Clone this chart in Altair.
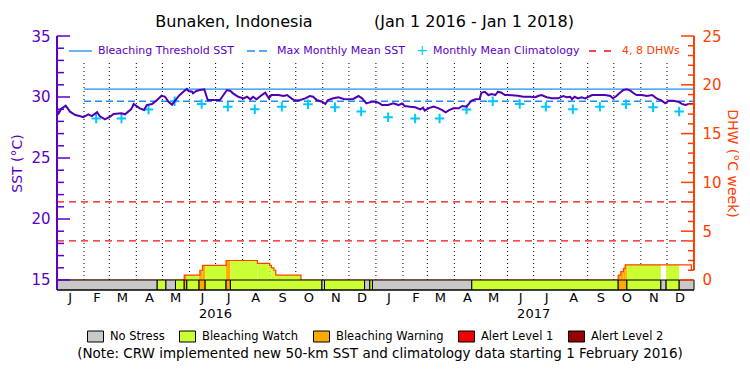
import datetime as dt
import altair as alt
import pandas as pd

START = dt.date(2016, 1, 1)
TOTAL_DAYS = 731

# ---------------- data ----------------
# daily SST (days since 1 Jan 2016, deg C)
sst_day = [0, 2, 5, 10, 15, 21, 26, 30, 36, 40,
           46, 49, 55, 61, 65, 74, 78, 85, 88, 95,
           100, 103, 109, 114, 120, 124, 128, 132, 136, 140,
           145, 149, 151, 155, 156, 160, 164, 169, 173, 187,
           191, 195, 199, 202, 208, 214, 218, 222, 225, 229,
           235, 239, 243, 246, 254, 260, 264, 269, 273, 279,
           285, 290, 294, 298, 304, 308, 311, 317, 323, 329,
           334, 340, 346, 350, 355, 361, 365, 369, 373, 380,
           386, 392, 396, 399, 405, 411, 417, 420, 422, 426,
           432, 438, 442, 446, 450, 455, 461, 465, 470, 473,
           476, 480, 485, 487, 491, 495, 499, 503, 506, 510,
           514, 518, 529, 535, 543, 549, 552, 556, 562, 568,
           575, 581, 585, 589, 591, 594, 598, 602, 606, 610,
           614, 623, 629, 635, 638, 642, 646, 650, 654, 658,
           661, 665, 671, 677, 683, 688, 694, 698, 702, 707,
           713, 717, 721, 725, 730]
sst_val = [28.99, 28.66, 29.04, 29.29, 28.80, 28.52, 28.44, 28.34, 28.58, 28.44,
           28.75, 28.44, 28.17, 28.39, 28.61, 28.66, 28.58, 28.99, 29.43, 29.07,
           28.93, 29.34, 29.43, 29.70, 30.11, 30.02, 29.61, 29.37, 29.75, 30.11,
           30.43, 30.66, 30.49, 30.43, 30.30, 30.49, 30.57, 30.63, 29.75, 29.75,
           30.16, 30.57, 30.49, 30.30, 30.02, 29.89, 30.02, 29.81, 30.02, 29.81,
           30.16, 30.35, 29.89, 30.16, 30.16, 30.08, 30.16, 29.89, 29.70, 29.75,
           29.89, 30.08, 30.02, 29.75, 29.61, 29.43, 29.75, 29.89, 29.98, 29.84,
           29.81, 29.84, 30.08, 29.89, 29.48, 29.61, 29.61, 29.53, 29.34, 29.34,
           29.48, 29.34, 29.48, 29.26, 29.21, 29.16, 28.99, 29.12, 28.88, 29.07,
           29.21, 29.07, 28.93, 28.75, 28.93, 29.07, 29.07, 29.26, 29.21, 29.48,
           29.70, 29.81, 29.84, 30.35, 30.43, 30.16, 30.25, 30.16, 30.43, 30.35,
           30.16, 30.16, 30.11, 30.02, 30.02, 29.98, 30.08, 30.16, 29.98, 29.89,
           29.89, 30.08, 29.98, 30.02, 29.81, 30.02, 29.89, 29.98, 29.89, 30.02,
           30.16, 30.16, 30.16, 30.08, 29.89, 30.08, 30.35, 30.57, 30.63, 30.52,
           30.35, 30.16, 30.16, 30.08, 30.16, 29.89, 29.70, 29.48, 29.70, 29.70,
           29.61, 29.43, 29.34, 29.43, 29.43]

# monthly mean climatology, Feb 2016 .. Dec 2017
clim_val = [28.24, 28.24, 28.98, 29.65, 29.43, 29.20, 28.99, 29.20, 29.40, 29.16, 28.82,
            28.34, 28.24, 28.24, 28.98, 29.65, 29.43, 29.20, 28.99, 29.20, 29.40, 29.16, 28.82]
MMM = 29.65
BT = 30.65
THRESH_FROM_DAY = 31          # thresholds drawn from 1 Feb 2016
DHW_LEVELS = [4, 8]

# Degree Heating Weeks (step values, day since 1 Jan 2016)
dhw_day = [0, 146, 164, 167, 194, 230, 244, 246, 249, 251, 280, 644, 647, 650, 652, 728]
dhw_val = [0, 0.5, 1.0, 1.5, 2.0, 1.7, 1.5, 1.25, 1.0, 0.5, 0, 0.5, 0.85, 1.2, 1.55, 1.0]

# bleaching alert status periods
status_start = [0, 115, 125, 136, 146, 149, 163, 170, 194, 199, 304,
                307, 353, 359, 362, 476, 644, 654, 693, 699, 714]
status_end = [115, 125, 136, 146, 149, 163, 170, 194, 199, 304, 307,
              353, 359, 362, 476, 644, 654, 693, 699, 714, 731]
status_level = ["No Stress", "Bleaching Watch", "No Stress", "Bleaching Watch",
                "Bleaching Warning", "Bleaching Watch", "Bleaching Warning",
                "Bleaching Watch", "Bleaching Warning", "Bleaching Watch", "No Stress",
                "Bleaching Watch", "No Stress", "Bleaching Watch", "No Stress",
                "Bleaching Watch", "Bleaching Warning", "Bleaching Watch", "No Stress",
                "Bleaching Watch", "No Stress"]
status_names = ["No Stress", "Bleaching Watch", "Bleaching Warning", "Alert Level 1", "Alert Level 2"]
status_colors = ["#c8c8c8", "#ccff33", "#ffaa00", "#f00000", "#960000"]

month_letters = list("JFMAMJJASOND")
years = [2016, 2017]

# ---------------- styling ----------------
FONT = "DejaVu Sans"
PURPLE = "#5a00c8"
LINE_PURPLE = "#5000b4"
ORANGE = "#ff4000"
BLUE = "#1e8cf0"
CYAN = "#00c8ff"
RED = "#f01010"
W, H = 637, 254

xs = alt.Scale(domain=[0, TOTAL_DAYS], nice=False, zero=False)
sst_scale = alt.Scale(domain=[14.18, 35], nice=False, zero=False)
dhw_scale = alt.Scale(domain=[-1.025, 25], nice=False, zero=False)

# ---------------- tables ----------------
month_start = [(dt.date(y, m, 1) - START).days for y in years for m in range(1, 13)]
sst_df = pd.DataFrame({"day": sst_day, "sst": sst_val})
clim_df = pd.DataFrame({"day": [d + 14 for d in month_start[1:]], "sst": clim_val})
grid_df = pd.DataFrame({"day": month_start[1:]})
mlab_df = pd.DataFrame({"day": [d + 15 for d in month_start],
                        "lab": month_letters * len(years)})
year_df = pd.DataFrame({"day": [(dt.date(y, 7, 1) - START).days for y in years],
                        "lab": [str(y) for y in years]})
thr_df = pd.DataFrame({"x": [THRESH_FROM_DAY], "x2": [TOTAL_DAYS], "bt": [BT], "mmm": [MMM]})
dhwl_df = pd.DataFrame({"x": [0] * len(DHW_LEVELS), "x2": [TOTAL_DAYS] * len(DHW_LEVELS),
                        "v": DHW_LEVELS})
status_df = pd.DataFrame({"start": status_start, "end": status_end, "status": status_level})
dhw_line_df = pd.DataFrame({"day": dhw_day + [TOTAL_DAYS], "dhw": dhw_val + [dhw_val[-1]]})


def status_at(d):
    for s, e, lv in zip(status_start, status_end, status_level):
        if s <= d < e:
            return lv
    return "No Stress"


def dhw_at(d):
    v = 0
    for dd, vv in zip(dhw_day, dhw_val):
        if dd <= d:
            v = vv
    return v


rows = []
for d in range(TOTAL_DAYS):
    lv, v = status_at(d), dhw_at(d)
    if lv != "No Stress" and v > 0:
        if rows and rows[-1]["end"] == d and rows[-1]["status"] == lv and rows[-1]["dhw"] == v:
            rows[-1]["end"] = d + 1
        else:
            rows.append({"start": d, "end": d + 1, "dhw": v, "status": lv, "base": 0})
fill_df = pd.DataFrame(rows)

color_enc = alt.Color(
    "status:N",
    scale=alt.Scale(domain=status_names, range=status_colors),
    legend=alt.Legend(
        orient="none", legendX=30, legendY=292, direction="horizontal", columns=5,
        title=None, symbolType="M-1,-0.6875H1V0.6875H-1Z", symbolSize=256,
        symbolStrokeColor="black", symbolStrokeWidth=1, symbolOpacity=1,
        labelFontSize=11.5, labelFont=FONT, labelColor="black", labelOffset=6,
        columnPadding=12, padding=0,
    ),
)

X = lambda f: alt.X(f, scale=xs, axis=None)


def txt(t, x, y, color="black", size=12, align="left", angle=0):
    return alt.Chart(pd.DataFrame({"t": [t]})).mark_text(
        align=align, baseline="middle", font=FONT, fontSize=size, color=color, angle=angle
    ).encode(text="t:N", x=alt.value(x), y=alt.value(y))


layers = []

# dotted month grid
layers.append(alt.Chart(grid_df).mark_rule(color="black", strokeWidth=1, strokeDash=[1, 3]).encode(
    x=X("day:Q"), y=alt.value(27), y2=alt.value(244)))

# 4, 8 DHW dashed lines
layers.append(alt.Chart(dhwl_df).mark_rule(color=RED, strokeWidth=1.2, strokeDash=[7, 5]).encode(
    x=X("x:Q"), x2="x2:Q", y=alt.Y("v:Q", scale=dhw_scale, axis=None)))

# thresholds
layers.append(alt.Chart(thr_df).mark_rule(color=BLUE, strokeWidth=1.3).encode(
    x=X("x:Q"), x2="x2:Q", y=alt.Y("bt:Q", scale=sst_scale, axis=None)))
layers.append(alt.Chart(thr_df).mark_rule(color=BLUE, strokeWidth=1.3, strokeDash=[7, 4]).encode(
    x=X("x:Q"), x2="x2:Q", y=alt.Y("mmm:Q", scale=sst_scale, axis=None)))

# climatology crosses
layers.append(alt.Chart(clim_df).mark_point(
    shape="M-1,0L1,0M0,-1L0,1", size=90, filled=False, color=CYAN, strokeWidth=2, opacity=1
).encode(x=X("day:Q"), y=alt.Y("sst:Q", scale=sst_scale, axis=None)))

# SST line (left axis)
layers.append(alt.Chart(sst_df).mark_line(color=LINE_PURPLE, strokeWidth=2).encode(
    x=X("day:Q"),
    y=alt.Y("sst:Q", scale=sst_scale, axis=alt.Axis(
        orient="left", values=[15, 20, 25, 30, 35], domain=False, ticks=False, grid=False,
        labelColor=PURPLE, labelFont=FONT, labelFontSize=15, labelPadding=7,
        title="SST (°C)", titleColor=PURPLE, titleFont=FONT, titleFontSize=14,
        titleFontWeight="normal", titlePadding=6))))

# DHW fill coloured by status
layers.append(alt.Chart(fill_df).mark_rect().encode(
    x=X("start:Q"), x2="end:Q",
    y=alt.Y("dhw:Q", scale=dhw_scale, axis=None), y2="base:Q", color=color_enc))

# DHW step line (right axis)
layers.append(alt.Chart(dhw_line_df).mark_line(color=ORANGE, strokeWidth=1.2, interpolate="step-after").encode(
    x=X("day:Q"),
    y=alt.Y("dhw:Q", scale=dhw_scale, axis=alt.Axis(
        orient="right", values=[0, 5, 10, 15, 20, 25], domain=False, ticks=False, grid=False,
        labelColor=ORANGE, labelFont=FONT, labelFontSize=15, labelPadding=8,
        title="DHW (°C week)", titleColor=ORANGE, titleFont=FONT, titleFontSize=14,
        titleFontWeight="normal", titlePadding=3))))

# status bar
layers.append(alt.Chart(status_df).mark_rect(stroke="black", strokeWidth=1).encode(
    x=X("start:Q"), x2="end:Q", y=alt.value(244), y2=alt.value(254), color=color_enc))

# axis ticks
sst_major = [15, 20, 25, 30, 35]
sst_minor = [v for v in range(15, 36) if v % 5]
dhw_major = [0, 5, 10, 15, 20, 25]
dhw_minor = [v for v in range(0, 26) if v % 5]
layers.append(alt.Chart(pd.DataFrame({"v": sst_major})).mark_rule(color=PURPLE, strokeWidth=1.5).encode(
    y=alt.Y("v:Q", scale=sst_scale, axis=None), x=alt.value(0), x2=alt.value(13)))
layers.append(alt.Chart(pd.DataFrame({"v": sst_minor})).mark_rule(color=PURPLE, strokeWidth=1.5).encode(
    y=alt.Y("v:Q", scale=sst_scale, axis=None), x=alt.value(0), x2=alt.value(7)))
layers.append(alt.Chart(pd.DataFrame({"v": dhw_major})).mark_rule(color=ORANGE, strokeWidth=1.5).encode(
    y=alt.Y("v:Q", scale=dhw_scale, axis=None), x=alt.value(W - 13), x2=alt.value(W)))
layers.append(alt.Chart(pd.DataFrame({"v": dhw_minor})).mark_rule(color=ORANGE, strokeWidth=1.5).encode(
    y=alt.Y("v:Q", scale=dhw_scale, axis=None), x=alt.value(W - 6), x2=alt.value(W)))

# spines
layers.append(alt.Chart(pd.DataFrame({"a": [0]})).mark_rule(color=PURPLE, strokeWidth=2).encode(
    x=alt.value(0), y=alt.value(0), y2=alt.value(H)))
layers.append(alt.Chart(pd.DataFrame({"a": [0]})).mark_rule(color=ORANGE, strokeWidth=2).encode(
    x=alt.value(W), y=alt.value(0), y2=alt.value(234)))
layers.append(alt.Chart(pd.DataFrame({"a": [0]})).mark_rule(color="black", strokeWidth=1).encode(
    x=alt.value(0), x2=alt.value(W), y=alt.value(H)))

# month and year labels
layers.append(alt.Chart(mlab_df).mark_text(font=FONT, fontSize=13, color="black", baseline="middle").encode(
    x=X("day:Q"), y=alt.value(262), text="lab:N"))
layers.append(alt.Chart(year_df).mark_text(font=FONT, fontSize=13, color="black", baseline="middle").encode(
    x=X("day:Q"), y=alt.value(278), text="lab:N"))

# titles
layers.append(txt("Bunaken, Indonesia", 177, -14, size=16, align="center"))
layers.append(txt("(Jan 1 2016 - Jan 1 2018)", 417, -14, size=16, align="center"))

# top legend
layers.append(alt.Chart(pd.DataFrame({"a": [0]})).mark_rule(color=BLUE, strokeWidth=1.3).encode(
    x=alt.value(12), x2=alt.value(35), y=alt.value(15)))
layers.append(txt("Bleaching Threshold SST", 41, 15, color=PURPLE, size=11))
layers.append(alt.Chart(pd.DataFrame({"a": [0]})).mark_rule(color=BLUE, strokeWidth=1.3, strokeDash=[8, 4]).encode(
    x=alt.value(190), x2=alt.value(210), y=alt.value(15)))
layers.append(txt("Max Monthly Mean SST", 220, 15, color=PURPLE, size=11))
layers.append(txt("+", 365, 15, color=CYAN, size=14, align="center"))
layers.append(txt("Monthly Mean Climatology", 376, 15, color=PURPLE, size=11))
layers.append(alt.Chart(pd.DataFrame({"a": [0]})).mark_rule(color=RED, strokeWidth=1.3, strokeDash=[7, 8]).encode(
    x=alt.value(532), x2=alt.value(555), y=alt.value(15)))
layers.append(txt("4, 8 DHWs", 565, 15, color=ORANGE, size=11))

# note
layers.append(txt("(Note: CRW implemented new 50-km SST and climatology data starting 1 February 2016)",
                  323, 318, size=13.5, align="center"))

chart = alt.layer(*layers).resolve_scale(y="independent").properties(
    width=W, height=H,
    padding={"left": 49, "top": 28, "right": 48, "bottom": 75},
    autosize=alt.AutoSizeParams(type="none"),
).configure_view(stroke=None)

chart.save("out.html", embed_options={"renderer": "svg", "actions": False})
